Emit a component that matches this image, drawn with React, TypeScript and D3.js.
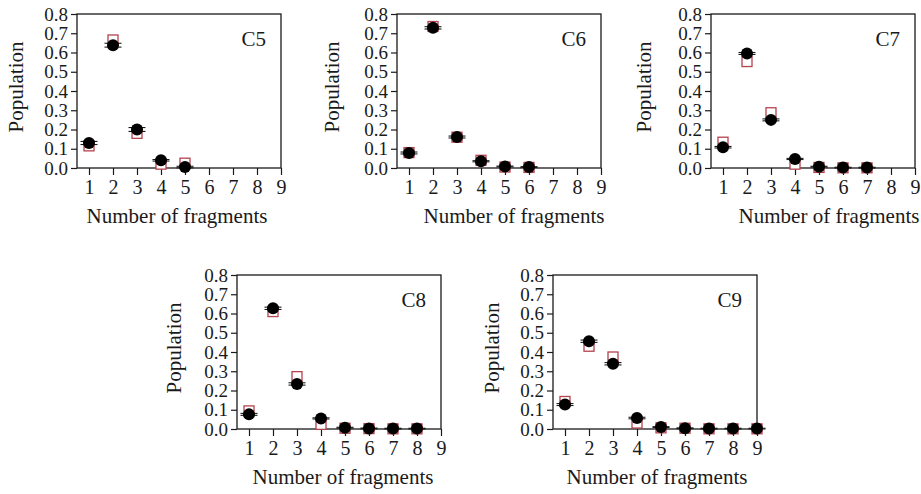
import { useEffect, useRef } from 'react';
import { select, scaleLinear, axisLeft, axisBottom, format } from 'd3';

// x ticks and y ticks shared by every panel
const fragmentTicks = [1, 2, 3, 4, 5, 6, 7, 8, 9];
const populationTicks = [0, 0.1, 0.2, 0.3, 0.4, 0.5, 0.6, 0.7, 0.8];

// open squares (simulation) and filled circles (experiment), per cluster
const c5Sim = [0.115, 0.665, 0.18, 0.02, 0.025];
const c5Exp = [0.13, 0.638, 0.2, 0.04, 0.005];
const c5Err = [0.008, 0.01, 0.01, 0.004, 0.004];

const c6Sim = [0.08, 0.735, 0.16, 0.04, 0.005, 0.003];
const c6Exp = [0.078, 0.728, 0.161, 0.035, 0.008, 0.005];
const c6Err = [0.005, 0.006, 0.005, 0.003, 0.002, 0.002];

const c7Sim = [0.134, 0.553, 0.287, 0.02, 0.003, 0.001, 0.001];
const c7Exp = [0.108, 0.595, 0.25, 0.047, 0.007, 0.002, 0.002];
const c7Err = [0.004, 0.005, 0.005, 0.003, 0.002, 0.002, 0.002];

const c8Sim = [0.094, 0.61, 0.272, 0.024, 0.004, 0.002, 0.001, 0.001];
const c8Exp = [0.076, 0.627, 0.234, 0.055, 0.007, 0.003, 0.002, 0.002];
const c8Err = [0.005, 0.006, 0.006, 0.003, 0.002, 0.002, 0.002, 0.002];

const c9Sim = [0.143, 0.43, 0.374, 0.031, 0.006, 0.004, 0.001, 0.001, 0.001];
const c9Exp = [0.127, 0.456, 0.339, 0.057, 0.01, 0.004, 0.002, 0.002, 0.002];
const c9Err = [0.005, 0.006, 0.006, 0.004, 0.002, 0.002, 0.002, 0.002, 0.002];

const panels = [
  { label: 'C5', sim: c5Sim, exp: c5Exp, err: c5Err },
  { label: 'C6', sim: c6Sim, exp: c6Exp, err: c6Err },
  { label: 'C7', sim: c7Sim, exp: c7Exp, err: c7Err },
  { label: 'C8', sim: c8Sim, exp: c8Exp, err: c8Err },
  { label: 'C9', sim: c9Sim, exp: c9Exp, err: c9Err },
];

// where each panel sits on the page
const layout = [
  { left: 77, top: 14, titleDx: -2, yTitleGap: 54 },
  { left: 397, top: 14, titleDx: 15, yTitleGap: 58 },
  { left: 711, top: 14, titleDx: 16, yTitleGap: 60 },
  { left: 237, top: 275, titleDx: 4, yTitleGap: 56 },
  { left: 553, top: 275, titleDx: 2, yTitleGap: 54 },
];

const plotW = 204;
const plotH = 154;
const width = 921;
const height = 494;
const fontFamily = '"Liberation Serif", "Times New Roman", serif';
const ink = '#1a1a1a';
const squareColor = '#b5434f';

const App = () => {
  const svgRef = useRef<SVGSVGElement>(null);

  useEffect(() => {
    if (!svgRef.current) return;
    const svg = select(svgRef.current);
    svg.selectAll('*').remove();

    const x = scaleLinear().domain([0.5, 9]).range([0, plotW]);
    const y = scaleLinear().domain([0, 0.8]).range([plotH, 0]);

    panels.forEach((p, i) => {
      const pos = layout[i];
      const g = svg
        .append('g')
        .attr('transform', `translate(${pos.left},${pos.top})`);

      // y axis
      const ya = g
        .append('g')
        .call(
          axisLeft(y)
            .tickValues(populationTicks)
            .tickFormat(format('.1f'))
            .tickSize(6)
            .tickPadding(3),
        );
      ya.select('.domain').remove();
      ya.attr('font-size', 19).attr('font-family', fontFamily);
      ya.selectAll('line').attr('stroke', ink).attr('stroke-width', 1.2);
      ya.selectAll('text').attr('fill', ink);

      // x axis
      const xa = g
        .append('g')
        .attr('transform', `translate(0,${plotH})`)
        .call(
          axisBottom(x)
            .tickValues(fragmentTicks)
            .tickFormat(format('d'))
            .tickSize(7)
            .tickPadding(5),
        );
      xa.select('.domain').remove();
      xa.attr('font-size', 20).attr('font-family', fontFamily);
      xa.selectAll('line').attr('stroke', ink).attr('stroke-width', 1.2);
      xa.selectAll('text').attr('fill', ink);

      // frame
      g.append('rect')
        .attr('width', plotW)
        .attr('height', plotH)
        .attr('fill', 'none')
        .attr('stroke', ink)
        .attr('stroke-width', 1.3);

      // squares go under the circles
      g.selectAll('rect.sim')
        .data(p.sim)
        .join('rect')
        .attr('class', 'sim')
        .attr('x', (_, j) => x(j + 1) - 5)
        .attr('y', (d) => y(d) - 5)
        .attr('width', 10)
        .attr('height', 10)
        .attr('fill', 'white')
        .attr('stroke', squareColor)
        .attr('stroke-width', 1.3);

      const bars = g
        .selectAll('g.err')
        .data(p.exp)
        .join('g')
        .attr('class', 'err')
        .attr('stroke', ink)
        .attr('stroke-width', 1.1);
      bars.each(function (d, j) {
        const e = p.err[j];
        const cx = x(j + 1);
        const b = select(this);
        b.append('line')
          .attr('x1', cx)
          .attr('x2', cx)
          .attr('y1', y(d + e))
          .attr('y2', y(Math.max(0, d - e)));
        [d + e, Math.max(0, d - e)].forEach((v) => {
          b.append('line')
            .attr('x1', cx - 8.5)
            .attr('x2', cx + 8.5)
            .attr('y1', y(v))
            .attr('y2', y(v));
        });
      });

      g.selectAll('circle.exp')
        .data(p.exp)
        .join('circle')
        .attr('class', 'exp')
        .attr('cx', (_, j) => x(j + 1))
        .attr('cy', (d) => y(d))
        .attr('r', 6)
        .attr('fill', '#000');

      // texts
      g.append('text')
        .attr('x', plotW - 15)
        .attr('y', 32)
        .attr('text-anchor', 'end')
        .attr('font-family', fontFamily)
        .attr('font-size', 21)
        .attr('fill', ink)
        .text(p.label);

      g.append('text')
        .attr('x', plotW / 2 + pos.titleDx)
        .attr('y', plotH + 55)
        .attr('text-anchor', 'middle')
        .attr('font-family', fontFamily)
        .attr('font-size', 21)
        .attr('fill', ink)
        .text('Number of fragments');

      g.append('text')
        .attr('transform', `translate(${-pos.yTitleGap},${plotH / 2 - 4}) rotate(-90)`)
        .attr('text-anchor', 'middle')
        .attr('font-family', fontFamily)
        .attr('font-size', 21)
        .attr('fill', ink)
        .text('Population');
    });
  }, []);

  return (
    <svg
      ref={svgRef}
      width={width}
      height={height}
      style={{ position: 'absolute', left: 0, top: 0, background: '#fff' }}
    />
  );
};

export default App;
